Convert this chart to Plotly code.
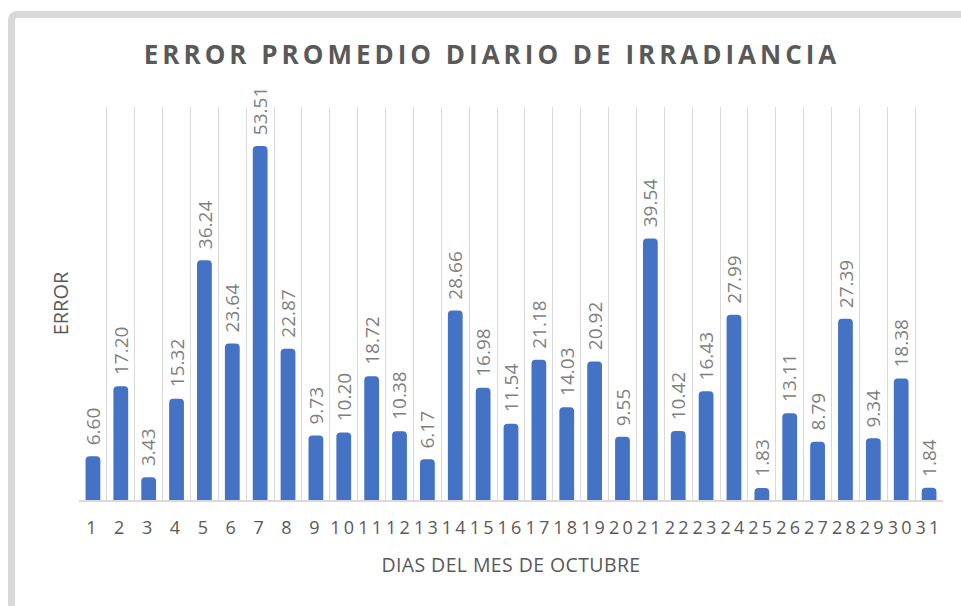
import plotly.graph_objects as go

# Daily mean irradiance error for October
days = list(range(1, 32))
errors = [6.60, 17.20, 3.43, 15.32, 36.24, 23.64, 53.51, 22.87, 9.73, 10.20,
          18.72, 10.38, 6.17, 28.66, 16.98, 11.54, 21.18, 14.03, 20.92, 9.55,
          39.54, 10.42, 16.43, 27.99, 1.83, 13.11, 8.79, 27.39, 9.34, 18.38, 1.84]
day_labels = [str(d) for d in days]

title_text = "ERROR PROMEDIO DIARIO DE IRRADIANCIA"
x_title = "DIAS DEL MES DE OCTUBRE"
y_title = "ERROR"

W, H = 961, 606
ML, MR, MT, MB = 79, 18, 107, 106
PW, PH = W - ML - MR, H - MT - MB

BAR_COLOR = "#4472C4"
TEXT_DARK = "#595959"
LABEL_GREY = "#7f7f7f"
GRID = "#d9d9d9"
FONT = "Open Sans"


def px_x(p):
    return (p - ML) / PW


def px_y(p):
    return (H - MB - p) / PH


fig = go.Figure()
fig.add_trace(go.Bar(
    x=day_labels,
    y=errors,
    width=0.53,
    marker=dict(color=BAR_COLOR, line=dict(width=0), cornerradius=4),
    hoverinfo="x+y",
))

# value labels, rotated, sitting above each bar (x given as category index)
annotations = []
for i, v in enumerate(errors):
    annotations.append(dict(
        x=i, y=v, xref="x", yref="y",
        text=f"{v:.2f}", textangle=-90,
        showarrow=False, yanchor="bottom", xanchor="center",
        yshift=9,
        font=dict(family=FONT, size=19, color=LABEL_GREY),
    ))

# outer chart frame with a rounded top-left corner
x0, y0 = px_x(11.5), px_y(14.5)
x1, y1 = px_x(980), px_y(640)
r_x, r_y = 6 / PW, 6 / PH
frame_path = (f"M {x0},{y1} L {x0},{y0 - r_y} Q {x0},{y0} {x0 + r_x},{y0} "
              f"L {x1},{y0}")

fig.update_layout(
    width=W, height=H,
    margin=dict(l=ML, r=MR, t=MT, b=MB),
    paper_bgcolor="white",
    plot_bgcolor="white",
    showlegend=False,
    title=dict(
        text=title_text, x=0.512, xref="container", xanchor="center",
        y=1 - 55 / H, yref="container", yanchor="middle",
        font=dict(family=FONT, size=26, color=TEXT_DARK, weight="bold"),
    ),
    xaxis=dict(
        type="category",
        range=[-0.5, len(days) - 0.5],
        tickson="boundaries",
        tickangle=0,
        showgrid=True, gridcolor=GRID, gridwidth=1.3,
        showline=True, linecolor=GRID, linewidth=1.5,
        ticks="", ticklabelstandoff=11,
        tickfont=dict(family=FONT, size=18, color=TEXT_DARK),
        title=dict(text=x_title, standoff=20,
                   font=dict(family=FONT, size=19.5, color=TEXT_DARK)),
        fixedrange=True,
    ),
    yaxis=dict(
        range=[0, 59.4],
        showgrid=False, zeroline=False, showline=False,
        showticklabels=False, ticks="",
        title=dict(text=y_title, standoff=4,
                   font=dict(family=FONT, size=20, color=TEXT_DARK)),
        fixedrange=True,
    ),
    annotations=annotations,
    shapes=[dict(type="path", path=frame_path, xref="paper", yref="paper",
                 line=dict(color=GRID, width=7), layer="below")],
)

# letter spacing for the title, day numbers and axis title
spacing_js = """
var gd = document.getElementById('{plot_id}');
function spaceText() {
  gd.querySelectorAll('.gtitle').forEach(function(e){ e.style.letterSpacing = '4px'; });
  gd.querySelectorAll('.xtick text').forEach(function(e){ e.style.letterSpacing = '3.2px'; });
  gd.querySelectorAll('.xtitle').forEach(function(e){ e.style.letterSpacing = '0.4px'; });
}
spaceText();
gd.on('plotly_afterplot', spaceText);
"""

fig.write_html("out.html", post_script=spacing_js, config={"displayModeBar": False})
